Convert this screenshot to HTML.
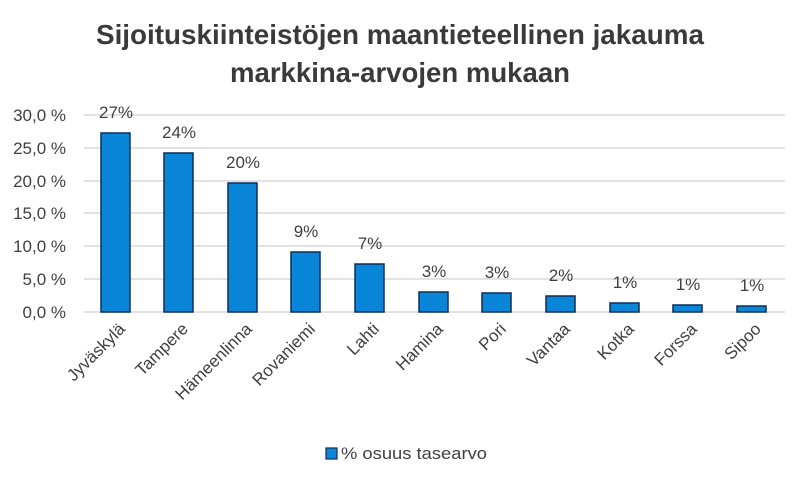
<!DOCTYPE html>
<html><head><meta charset="utf-8"><style>body{margin:0;background:#fff}svg{display:block}</style></head><body>
<svg width="800" height="483" xmlns="http://www.w3.org/2000/svg" font-family="Liberation Sans, sans-serif">
<text x="400" y="44" text-anchor="middle" font-size="28" font-weight="bold" fill="#3a3a3a" textLength="608" lengthAdjust="spacingAndGlyphs">Sijoituskiinteistöjen maantieteellinen jakauma</text>
<text x="400" y="82" text-anchor="middle" font-size="28" font-weight="bold" fill="#3a3a3a" textLength="340" lengthAdjust="spacingAndGlyphs">markkina-arvojen mukaan</text>
<g stroke="#d0d0d0" stroke-width="1.3">
<line x1="84" x2="785" y1="115" y2="115"/><line x1="84" x2="785" y1="148" y2="148"/><line x1="84" x2="785" y1="181" y2="181"/><line x1="84" x2="785" y1="213" y2="213"/><line x1="84" x2="785" y1="246" y2="246"/><line x1="84" x2="785" y1="279" y2="279"/><line x1="84" x2="785" y1="312" y2="312"/>
</g>
<g font-size="17" fill="#404040" text-anchor="end">
<text x="66" y="121">30,0 %</text><text x="66" y="154">25,0 %</text><text x="66" y="187">20,0 %</text><text x="66" y="219">15,0 %</text><text x="66" y="252">10,0 %</text><text x="66" y="285">5,0 %</text><text x="66" y="318">0,0 %</text>
</g>
<g fill="#0a86d8" stroke="#0d2f5a" stroke-width="1.5">
<rect x="101" y="133" width="29" height="179"/>
<rect x="164" y="153" width="29" height="159"/>
<rect x="228" y="183" width="29" height="129"/>
<rect x="291" y="252" width="29" height="60"/>
<rect x="355" y="264" width="29" height="48"/>
<rect x="419" y="292" width="29" height="20"/>
<rect x="482" y="293" width="29" height="19"/>
<rect x="546" y="296" width="29" height="16"/>
<rect x="610" y="303" width="29" height="9"/>
<rect x="673" y="305" width="29" height="7"/>
<rect x="737" y="306" width="29" height="6"/>
</g>
<g font-size="17" fill="#404040" text-anchor="middle">
<text x="116" y="118">27%</text><text x="179" y="138">24%</text><text x="243" y="168">20%</text><text x="306" y="237">9%</text><text x="370" y="249">7%</text><text x="434" y="277">3%</text><text x="497" y="278">3%</text><text x="561" y="281">2%</text><text x="625" y="288">1%</text><text x="688" y="290">1%</text><text x="752" y="291">1%</text>
</g>
<g font-size="17" fill="#404040" text-anchor="end">
<text transform="translate(126,330) rotate(-45)">Jyväskylä</text>
<text transform="translate(189,330) rotate(-45)">Tampere</text>
<text transform="translate(253,330) rotate(-45)">Hämeenlinna</text>
<text transform="translate(316,330) rotate(-45)">Rovaniemi</text>
<text transform="translate(380,330) rotate(-45)">Lahti</text>
<text transform="translate(444,330) rotate(-45)">Hamina</text>
<text transform="translate(507,330) rotate(-45)">Pori</text>
<text transform="translate(571,330) rotate(-45)">Vantaa</text>
<text transform="translate(635,330) rotate(-45)">Kotka</text>
<text transform="translate(698,330) rotate(-45)">Forssa</text>
<text transform="translate(762,330) rotate(-45)">Sipoo</text>
</g>
<rect x="326" y="448" width="11" height="11" fill="#0a86d8" stroke="#0d2f5a" stroke-width="1.2"/>
<text x="341" y="459" font-size="17" fill="#404040" textLength="146" lengthAdjust="spacingAndGlyphs">% osuus tasearvo</text>
</svg>
</body></html>
